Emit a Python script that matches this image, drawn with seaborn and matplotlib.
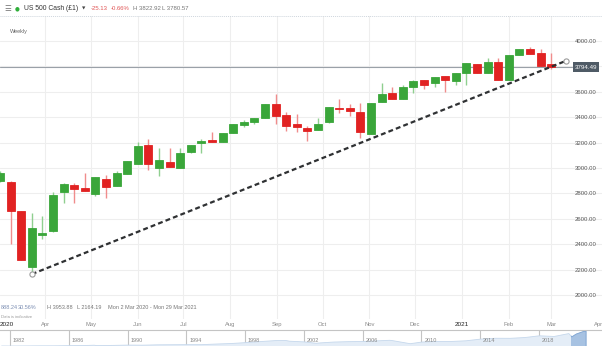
import matplotlib
matplotlib.use("Agg")
import matplotlib.pyplot as plt
import matplotlib.dates as mdates
import matplotlib.transforms as mtransforms
from matplotlib.lines import Line2D
from matplotlib.patches import Rectangle
import numpy as np
import pandas as pd
import seaborn as sns

# Weekly US 500 Cash candles, week of Mon 2 Mar 2020 to week of Mon 1 Mar 2021
week_open = [2900, 2892, 2661, 2223, 2472, 2506, 2809, 2866, 2843, 2793,
             2916, 2858, 2950, 3029, 3181, 2998, 3050, 2998, 3128, 3194,
             3220, 3207, 3273, 3339, 3365, 3396, 3506, 3417, 3346, 3313,
             3299, 3365, 3470, 3475, 3443, 3268, 3517, 3588, 3546, 3640,
             3693, 3672, 3724, 3685, 3750, 3819, 3746, 3837, 3693, 3890,
             3935, 3908, 3817]
week_high = [2975, 2895, 2661, 2643, 2625, 2813, 2884, 2884, 2963, 2932,
             2945, 2976, 3053, 3207, 3226, 3160, 3155, 3155, 3181, 3226,
             3284, 3273, 3349, 3378, 3391, 3502, 3585, 3439, 3425, 3331,
             3391, 3478, 3543, 3502, 3514, 3514, 3667, 3635, 3654, 3693,
             3693, 3719, 3724, 3750, 3824, 3819, 3864, 3864, 3890, 3935,
             3953.88, 3935, 3908]
week_low = [2890, 2399, 2276, 2164.19, 2441, 2500, 2722, 2727, 2821, 2782,
            2761, 2858, 2950, 3029, 2984, 2937, 3006, 2998, 3120, 3120,
            3203, 3207, 3273, 3325, 3344, 3396, 3346, 3291, 3286, 3213,
            3299, 3352, 3431, 3409, 3234, 3268, 3517, 3543, 3546, 3588,
            3620, 3635, 3601, 3654, 3654, 3746, 3746, 3693, 3693, 3890,
            3895, 3803, 3780.57]
week_close = [2963, 2661, 2276, 2530, 2491, 2791, 2874, 2832, 2821, 2932,
              2853, 2958, 3053, 3176, 3029, 3063, 3006, 3120, 3181, 3215,
              3203, 3273, 3349, 3365, 3391, 3502, 3409, 3331, 3320, 3291,
              3346, 3478, 3462, 3451, 3281, 3514, 3583, 3543, 3635, 3685,
              3654, 3719, 3693, 3750, 3824, 3746, 3832, 3693, 3890, 3935,
              3895, 3803, 3794.49]
week_start = pd.date_range("2020-03-02", periods=len(week_open), freq="7D")

last_price = 3794.49

# Trend line drawn under the lows
trend_dates = pd.to_datetime(["2020-03-23", "2021-03-11"])
trend_values = [2164.19, 3845.0]

price_ticks = [2000, 2200, 2400, 2600, 2800, 3000, 3200, 3400, 3600, 3800, 4000]
month_ticks = pd.to_datetime(["2020-03-02", "2020-04-01", "2020-05-01", "2020-06-01",
                              "2020-07-01", "2020-08-01", "2020-09-01", "2020-10-01",
                              "2020-11-01", "2020-12-01", "2021-01-01", "2021-02-01",
                              "2021-03-01", "2021-04-01"])
month_labels = ["2020", "Apr", "May", "Jun", "Jul", "Aug", "Sep", "Oct", "Nov",
                "Dec", "2021", "Feb", "Mar", "Apr"]

# Long-range navigator series (yearly history of the index)
nav_years = [1981.4, 1982, 1983, 1984, 1985, 1986, 1987, 1987.7, 1987.85, 1989,
             1990, 1991, 1992, 1994, 1995, 1996, 1997, 1998, 1999, 2000,
             2000.7, 2001, 2002, 2002.8, 2003, 2004, 2005, 2006, 2007, 2007.8,
             2008, 2009.2, 2010, 2011, 2012, 2013, 2014, 2015, 2016, 2017,
             2018, 2019, 2020, 2020.2, 2020.5, 2021, 2021.17]
nav_values = [130, 122, 140, 165, 167, 211, 242, 320, 230, 277,
              353, 330, 417, 466, 459, 616, 740, 970, 1229, 1469,
              1520, 1320, 1148, 800, 880, 1112, 1212, 1248, 1418, 1550,
              1468, 700, 1115, 1258, 1258, 1426, 1848, 2059, 2044, 2239,
              2674, 2507, 3230, 2400, 3100, 3756, 3795]
nav_label_years = [1982, 1986, 1990, 1994, 1998, 2002, 2006, 2010, 2014, 2018]
nav_window = (2020.17, 2021.17)

sns.set_theme(style="white")
plt.rcParams["font.family"] = ["Liberation Sans", "DejaVu Sans"]

W, H = 602, 346
fig = plt.figure(figsize=(W / 100, H / 100), dpi=100)
fig.patch.set_facecolor("white")

# ---- main price panel ----
ax = fig.add_axes([0, 27 / H, 1, 303 / H])
ax.set_facecolor("white")
for s in ax.spines.values():
    s.set_visible(False)

GREEN, GREEN_W = "#3aa63a", "#8fcf8f"
RED, RED_W = "#e12222", "#f08c8c"

x = mdates.date2num(week_start)
o = np.array(week_open, dtype=float)
c = np.array(week_close, dtype=float)
hi = np.array(week_high, dtype=float)
lo = np.array(week_low, dtype=float)
up = c >= o
body_col = np.where(up, GREEN, RED)
wick_col = np.where(up, GREEN_W, RED_W)

ax.vlines(x, lo, hi, colors=wick_col, linewidth=1.0, zorder=3)
ax.bar(x, np.abs(c - o), bottom=np.minimum(o, c), width=5.2,
       color=body_col, edgecolor=body_col, linewidth=0.6, zorder=4)

# last price line and tag
ax.axhline(last_price, xmin=0, xmax=572 / W, color="#9aa1a8", linewidth=0.8, zorder=2)
tag_tr = mtransforms.blended_transform_factory(ax.transAxes, ax.transData)
ax.text(586 / W, last_price, f"{last_price:.2f}", transform=tag_tr, ha="center",
        va="center", fontsize=4.4, color="white", zorder=6,
        bbox=dict(boxstyle="square,pad=0.35", facecolor="#4f5b66", edgecolor="none"))

# trend line with anchor circles
sns.lineplot(x=trend_dates, y=trend_values, ax=ax, color="#2f3133",
             linewidth=1.6, linestyle=(0, (2.2, 1.4)), zorder=5)
sns.scatterplot(x=trend_dates, y=trend_values, ax=ax, s=14, marker="o",
                facecolor="white", edgecolor="#9a9a9a", linewidth=0.8, zorder=7)

x0 = pd.Timestamp("2020-03-02")
ax.set_xlim(mdates.date2num(x0), mdates.date2num(x0 + pd.Timedelta(days=602 / 1.5142)))
ax.set_ylim(1811, 4197)

ax.set_yticks(price_ticks)
ax.set_yticklabels([f"{v:.2f}" for v in price_ticks])
ax.yaxis.tick_right()
ax.tick_params(axis="y", length=0, pad=-27 * 0.72, labelsize=4.3, labelcolor="#555555")

ax.set_xticks(mdates.date2num(month_ticks))
ax.set_xticklabels(month_labels)
ax.tick_params(axis="x", length=0, pad=2.0, labelsize=4.2, labelcolor="#8a8a8a")
for lab in ax.get_xticklabels():
    if lab.get_text() in ("2020", "2021"):
        lab.set_color("#222222")
        lab.set_fontsize(4.6)
ax.get_xticklabels()[0].set_horizontalalignment("left")

ax.grid(True, color="#eeeeee", linewidth=0.8, zorder=0)
ax.set_axisbelow(True)
gl = ax.xaxis.get_gridlines()
gl[0].set_visible(False)
gl[-1].set_visible(False)
ax.set_xlabel("")
ax.set_ylabel("")
if ax.get_legend():
    ax.get_legend().remove()

# ---- header bar ----
def ftext(px, py, s, **kw):
    fig.text(px / W, 1 - py / H, s, va="center", **kw)

ftext(4, 8.3, "☰", fontsize=5.5, color="#777777", family=["DejaVu Sans"])
ftext(15, 8.5, "●", fontsize=4.0, color="#2fae3a", family=["DejaVu Sans"])
ftext(24, 8.3, "US 500 Cash (£1)", fontsize=4.9, color="#333333")
ftext(82, 8.6, "▼", fontsize=3.2, color="#444444", family=["DejaVu Sans"])
ftext(91, 8.3, "-25.13", fontsize=4.3, color="#e05555")
ftext(111, 8.3, "-0.66%", fontsize=4.3, color="#e05555")
ftext(133, 8.3, "H 3822.92", fontsize=4.3, color="#777777")
ftext(162, 8.3, "L 3780.57", fontsize=4.3, color="#777777")
fig.add_artist(Line2D([0, 1], [1 - 15.5 / H] * 2, color="#cfd6dd",
                      linewidth=0.7, linestyle=(0, (1, 1))))
ftext(10, 31, "Weekly", fontsize=4.0, color="#666666")

# ---- range summary under the plot ----
ftext(1, 307.7, "888.24", fontsize=4.0, color="#7d8fb3")
ftext(18, 307.7, "30.56%", fontsize=4.0, color="#7d8fb3")
ftext(47, 307.7, "H 3953.88", fontsize=4.0, color="#777777")
ftext(77, 307.7, "L 2164.19", fontsize=4.0, color="#777777")
ftext(108, 307.7, "Mon 2 Mar 2020 - Mon 29 Mar 2021", fontsize=4.0, color="#777777")
ftext(1, 316.7, "Data is indicative", fontsize=3.0, color="#999999")

# ---- navigator ----
nav = fig.add_axes([0, 0, 1, 16 / H])
nav.set_facecolor("white")
nav.fill_between(nav_years, nav_values, 0, color="#e4edf7", linewidth=0.6,
                 edgecolor="#c6d8ec", zorder=1)
sel = nav.fill_between(nav_years, nav_values, 0, color="#a7c2e2", linewidth=0.6,
                       edgecolor="#7fa5d3", zorder=2)
sel.set_clip_path(Rectangle((nav_window[0], 0), nav_window[1] - nav_window[0], 5000,
                            transform=nav.transData))
nav.set_xlim(1982 - 10 / 14.694, 1982 + 592 / 14.694)
nav.set_ylim(0, 4000)
for s in ["left", "right", "bottom"]:
    nav.spines[s].set_visible(False)
nav.spines["top"].set_color("#c4c4c4")
nav.spines["top"].set_linewidth(0.8)
nav.set_xticks(nav_label_years)
nav.set_xticklabels([])
nav.set_yticks([])
nav.tick_params(length=0)
nav.grid(True, axis="x", color="#c4c4c4", linewidth=0.8, zorder=3)
nav.grid(False, axis="y")
for yr in nav_label_years:
    nav.text(yr + 0.2, 1250, str(yr), fontsize=4.0, color="#888888",
             ha="left", va="center", zorder=4)

fig.savefig("out.png", dpi=100, facecolor="white")
